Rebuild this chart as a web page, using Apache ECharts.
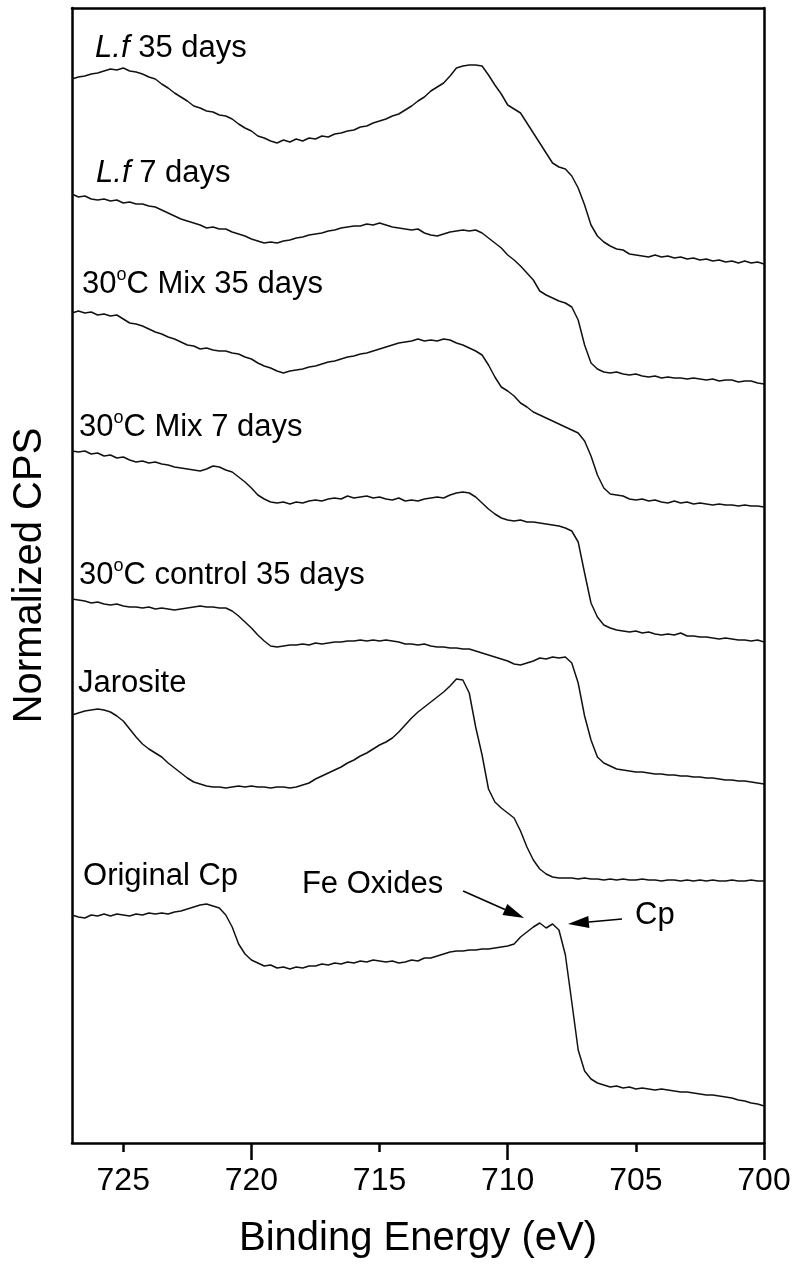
<!DOCTYPE html>
<html>
<head>
<meta charset="utf-8">
<script src="https://cdn.jsdelivr.net/npm/echarts@6/dist/echarts.min.js"></script>
<style>
  html, body { margin: 0; padding: 0; background: #fff; }
  #chart { width: 796px; height: 1272px; }
</style>
</head>
<body>
<div id="chart"></div>
<script>
// Fe 2p XPS spectra, stacked with vertical offsets (arbitrary normalized counts).
// Scan grid: 727 eV down to 700 eV in 0.25 eV steps (109 points).
const ENERGY_START = 727;
const ENERGY_STEP = 0.25;

const lf35 = [
  1064,1066,1067,1069,1070,1072,1074,1073,1075,1072,
  1071,1069,1066,1064,1059,1055,1050,1046,1042,1037,
  1035,1032,1031,1028,1027,1024,1019,1015,1012,1007,
  1005,1002,1000,1003,1001,1004,1002,1005,1004,1007,
  1006,1009,1010,1012,1013,1016,1017,1020,1022,1024,
  1027,1029,1033,1037,1042,1046,1052,1056,1060,1067,
  1075,1077,1078,1078,1077,1068,1058,1049,1038,1034,
  1030,1020,1010,1000,990,980,976,974,967,955,
  938,918,907,901,897,894,893,889,888,887,
  886,888,886,887,885,886,884,885,883,884,
  882,883,881,882,880,882,880,881,879
];
const lf7 = [
  949,946,947,944,943,944,942,943,940,941,
  939,939,937,936,933,930,927,924,922,920,
  918,915,916,914,914,911,909,907,904,902,
  900,901,900,902,903,905,906,908,909,910,
  912,913,915,916,917,917,919,918,920,918,
  916,915,914,913,914,910,908,907,909,911,
  912,913,912,913,910,905,900,895,888,883,
  877,870,863,852,848,845,842,840,836,823,
  798,780,774,771,770,771,769,768,769,767,
  766,767,765,766,765,765,764,765,764,763,
  764,762,763,763,761,762,762,760,759
];
const mix35 = [
  830,832,830,831,828,829,827,828,824,820,
  819,817,814,811,809,806,804,801,798,797,
  794,795,793,792,792,790,789,786,784,780,
  777,775,772,770,772,773,774,776,777,779,
  781,782,784,786,787,789,790,792,794,796,
  798,800,801,802,804,802,803,802,804,803,
  800,798,795,792,788,778,766,756,752,747,
  740,736,731,728,725,722,719,716,713,710,
  702,687,668,655,649,648,647,644,643,644,
  642,643,641,640,642,640,641,639,640,639,
  638,639,638,638,637,638,637,637,636
];
const mix7 = [
  692,691,692,689,690,687,688,685,686,683,
  681,682,680,681,679,678,676,675,674,673,
  672,674,677,676,673,671,666,661,655,648,
  644,641,640,641,639,641,640,642,643,642,
  644,645,644,647,645,646,647,645,646,644,
  643,645,642,643,642,644,645,646,645,648,
  650,651,650,646,640,634,629,625,623,622,
  623,621,621,620,619,618,617,615,612,601,
  570,540,526,518,515,513,512,511,512,510,
  511,509,508,509,508,510,507,507,506,506,
  505,504,505,504,503,503,502,503,501
];
const control35 = [
  544,543,542,540,541,539,538,539,537,536,
  536,535,536,534,535,534,533,534,535,536,
  537,536,536,535,535,532,527,521,515,508,
  502,497,496,497,498,498,499,498,500,499,
  500,501,501,502,502,503,502,503,502,503,
  502,501,499,499,498,499,497,496,496,495,
  495,494,494,492,490,488,486,484,482,479,
  478,480,482,485,484,486,485,486,480,460,
  427,403,386,380,377,374,373,372,371,371,
  370,369,369,368,368,367,367,366,366,365,
  365,364,363,363,362,362,361,360,359
];
const jarosite = [
  428,430,432,433,434,433,431,427,422,414,
  406,399,394,390,386,380,375,370,365,361,
  359,357,356,356,355,356,357,356,357,356,
  356,355,356,356,355,356,358,360,364,367,
  370,373,376,380,383,387,390,394,398,401,
  405,411,418,425,431,436,441,446,451,457,
  464,463,450,416,388,354,341,335,330,325,
  312,296,283,274,269,266,265,265,265,264,
  265,264,264,263,264,263,264,263,263,264,
  263,263,262,263,263,262,263,262,263,262,
  263,262,262,263,262,262,263,262,262
];
const originalCp = [
  228,226,225,228,227,229,227,229,228,227,
  229,228,230,229,230,229,231,232,234,236,
  238,239,237,235,228,216,199,189,183,180,
  177,178,175,176,174,176,175,177,177,179,
  178,180,179,181,180,182,181,183,182,181,
  182,180,181,183,182,185,185,187,189,191,
  192,192,193,193,194,194,195,196,197,199,
  206,211,216,220,215,219,213,188,141,93,
  72,64,60,58,56,57,55,56,54,55,
  54,53,54,53,52,51,51,50,49,48,
  48,47,46,45,43,42,40,39,37
];

const tickLabels = [725, 720, 715, 710, 705, 700];
const majorTicks = [720, 710, 700];

const spectra = [lf35, lf7, mix35, mix7, control35, jarosite, originalCp];
const spectrumNames = ['L.f 35 days', 'L.f 7 days', '30°C Mix 35 days', '30°C Mix 7 days',
  '30°C control 35 days', 'Jarosite', 'Original Cp'];

// Text anchors in data space: [energy of left edge, normalized CPS of text middle]
const labelTexts = [
  '{i|L.f} 35 days', '{i|L.f} 7 days', '30{s|o}C Mix 35 days', '30{s|o}C Mix 7 days',
  '30{s|o}C control 35 days', 'Jarosite', 'Original Cp', 'Fe Oxides', 'Cp'
];
const labelAnchors = [
  [726.10, 1095], [726.06, 970], [726.61, 859], [726.73, 716],
  [726.73, 568], [726.77, 460], [726.57, 267], [718.03, 259], [705.03, 228]
];
// Annotation arrows: [tail, tip] in data space
const arrows = [
  [[711.74, 252], [709.36, 225]],
  [[705.54, 224], [707.65, 219]]
];

const FONT = "'Liberation Sans', Arial, Helvetica, sans-serif";
const energies = lf35.map((_, i) => ENERGY_START - ENERGY_STEP * i);

const chart = echarts.init(document.getElementById('chart'), null, { renderer: 'canvas' });

const axisLineStyle = { color: '#000', width: 2.5 };

const option = {
  animation: false,
  backgroundColor: '#fff',
  grid: { left: 72, right: 32, top: 8, bottom: 129, containLabel: false },
  xAxis: [
    {
      type: 'value', min: 700, max: 727, inverse: true, position: 'bottom',
      axisLine: { show: true, lineStyle: axisLineStyle },
      axisTick: { show: true, length: 9, lineStyle: { color: '#000', width: 2.5 }, customValues: tickLabels },
      axisLabel: { show: true, customValues: tickLabels, fontSize: 32, color: '#000', fontFamily: FONT, margin: 22 },
      splitLine: { show: false },
      name: 'Binding Energy (eV)', nameLocation: 'middle', nameGap: 76,
      nameTextStyle: { fontSize: 40, color: '#000', fontFamily: FONT }
    },
    {
      type: 'value', min: 700, max: 727, inverse: true, position: 'bottom',
      axisLine: { show: false },
      axisTick: { show: true, length: 17, lineStyle: { color: '#000', width: 2.5 }, customValues: majorTicks },
      axisLabel: { show: false },
      splitLine: { show: false }
    },
    {
      type: 'value', min: 700, max: 727, inverse: true, position: 'top',
      axisLine: { show: true, lineStyle: axisLineStyle },
      axisTick: { show: false }, axisLabel: { show: false }, splitLine: { show: false }
    }
  ],
  yAxis: [
    {
      type: 'value', min: 0, max: 1135, position: 'left',
      axisLine: { show: true, lineStyle: axisLineStyle },
      axisTick: { show: false }, axisLabel: { show: false }, splitLine: { show: false },
      name: 'Normalized CPS', nameLocation: 'middle', nameGap: 22, nameRotate: 90,
      nameTextStyle: { fontSize: 40, color: '#000', fontFamily: FONT }
    },
    {
      type: 'value', min: 0, max: 1135, position: 'right',
      axisLine: { show: true, lineStyle: axisLineStyle },
      axisTick: { show: false }, axisLabel: { show: false }, splitLine: { show: false }
    }
  ],
  series: spectra.map((values, k) => ({
    name: spectrumNames[k],
    type: 'line',
    xAxisIndex: 0,
    yAxisIndex: 0,
    showSymbol: false,
    symbol: 'none',
    smooth: false,
    silent: true,
    lineStyle: { color: '#111', width: 1.5 },
    data: values.map((v, i) => [energies[i], v])
  }))
};

chart.setOption(option);

// Text labels and arrows placed through the grid's coordinate system
const graphics = [];
const richStyles = {
  i: { fontStyle: 'italic', fontSize: 31, fontFamily: FONT, fill: '#000' },
  s: { fontSize: 18, fontFamily: FONT, fill: '#000', verticalAlign: 'top', lineHeight: 18 }
};
labelTexts.forEach((t, k) => {
  const p = chart.convertToPixel({ gridIndex: 0 }, labelAnchors[k]);
  graphics.push({
    type: 'text', x: p[0], y: p[1], silent: true,
    style: {
      text: t, fontSize: 31, fontFamily: FONT, fill: '#000',
      textAlign: 'left', textVerticalAlign: 'middle', lineHeight: 36,
      rich: richStyles
    }
  });
});
arrows.forEach(([tail, tip]) => {
  const a = chart.convertToPixel({ gridIndex: 0 }, tail);
  const b = chart.convertToPixel({ gridIndex: 0 }, tip);
  const dx = b[0] - a[0], dy = b[1] - a[1];
  const len = Math.sqrt(dx * dx + dy * dy);
  const ux = dx / len, uy = dy / len;
  const headLen = 21, headHalf = 6;
  const bx = b[0] - ux * headLen, by = b[1] - uy * headLen;
  graphics.push({
    type: 'line', silent: true,
    shape: { x1: a[0], y1: a[1], x2: bx, y2: by },
    style: { stroke: '#000', lineWidth: 1.6 }
  });
  graphics.push({
    type: 'polygon', silent: true,
    shape: { points: [[b[0], b[1]], [bx - uy * headHalf, by + ux * headHalf], [bx + uy * headHalf, by - ux * headHalf]] },
    style: { fill: '#000' }
  });
});
chart.setOption({ graphic: graphics });
</script>
</body>
</html>
